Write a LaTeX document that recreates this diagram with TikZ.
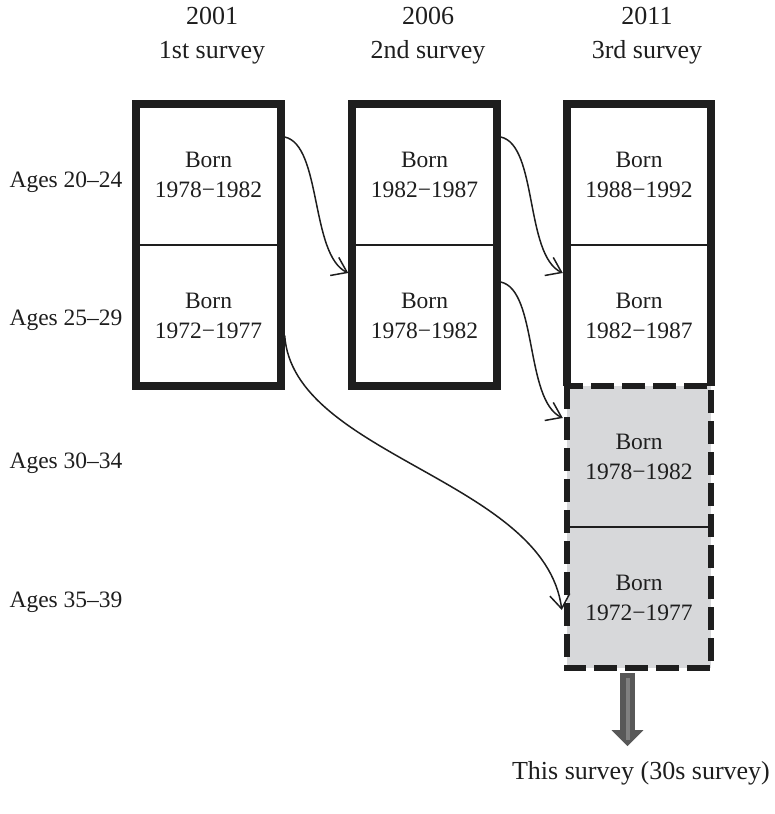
\documentclass[tikz,border=0pt]{standalone}
\usepackage{fontspec}
\setmainfont{Liberation Serif}
\usetikzlibrary{arrows.meta}
\definecolor{cellgray}{RGB}{215,216,218}
\definecolor{arrowgray}{RGB}{88,88,88}
\definecolor{arrowlight}{RGB}{128,128,128}
\definecolor{ink}{RGB}{30,30,30}

\begin{document}
\begin{tikzpicture}[x=1pt, y=-1pt, color=ink,
	cell/.style={minimum width=144pt, minimum height=141pt, inner sep=0pt, align=center, font=\fontsize{23.5}{30}\selectfont},
	newcell/.style={cell, fill=cellgray},
	agelabel/.style={anchor=base, font=\fontsize{23.5}{30}\selectfont},
	headlabel/.style={align=center, font=\fontsize{26}{34}\selectfont},
	frame/.style={line width=8pt},
	dashframe/.style={line width=6pt, dash pattern=on 23pt off 8pt},
	divider/.style={line width=2.5pt},
	cohort/.style={line width=1.5pt, -{Straight Barb[length=14pt, width=20pt]}},
	bigarrow/.style={draw=arrowgray, line width=15pt, -{Triangle[length=16pt, width=31pt]}}]
			\useasboundingbox (0,0) rectangle (774,814);
			% survey headers
			\node[headlabel] (head1) at (212,36) {2001\\1st survey};
			\node[headlabel] (head2) at (428,36) {2006\\2nd survey};
			\node[headlabel] (head3) at (647,36) {2011\\3rd survey};
			% age groups
			\node[agelabel] (age1) at (66,187) {Ages 20–24};
			\node[agelabel] (age2) at (66,325) {Ages 25–29};
			\node[agelabel] (age3) at (66,468) {Ages 30–34};
			\node[agelabel] (age4) at (66,607) {Ages 35–39};
			% cohorts
			\node[cell] (s1r1) at (208.5,174.5) {Born\\1978−1982};
			\node[cell] (s1r2) at (208.5,315.5) {Born\\1972−1977};
			\node[cell] (s2r1) at (424.5,174.5) {Born\\1982−1987};
			\node[cell] (s2r2) at (424.5,315.5) {Born\\1978−1982};
			\node[cell] (s3r1) at (639,174.5) {Born\\1988−1992};
			\node[cell] (s3r2) at (639,315.5) {Born\\1982−1987};
			\node[newcell] (s3r3) at (639,456.5) {Born\\1978−1982};
			\node[newcell] (s3r4) at (639,597.5) {Born\\1972−1977};
			\draw[frame] (s1r1.north west) rectangle (s1r2.south east);
			\draw[divider] (s1r1.south west) -- (s1r1.south east);
			\draw[frame] (s2r1.north west) rectangle (s2r2.south east);
			\draw[divider] (s2r1.south west) -- (s2r1.south east);
			\draw[dashframe] (s3r3.north west) rectangle (s3r4.south east);
			\draw[divider] (s3r3.south west) -- (s3r3.south east);
			\draw[frame] (s3r2.south west) -- (s3r1.north west) -- (s3r1.north east) -- (s3r2.south east);
			\draw[divider] (s3r1.south west) -- (s3r1.south east);
			% moving cohorts
			\draw[cohort] ([xshift=4pt,yshift=37.5pt]s1r1.east) .. controls +(37,8) and +(-38,-18) .. ([xshift=-4pt,yshift=42.5pt]s2r2.west);
			\draw[cohort] ([xshift=4pt,yshift=37.5pt]s2r1.east) .. controls +(37,8) and +(-38,-18) .. ([xshift=-4pt,yshift=42.5pt]s3r2.west);
			\draw[cohort] ([xshift=4pt,yshift=33.5pt]s2r2.east) .. controls +(37,8) and +(-38,-18) .. ([xshift=-4pt,yshift=38.5pt]s3r3.west);
			\draw[cohort] ([xshift=4pt,yshift=-20pt]s1r2.east) .. controls +(8,120) and +(-17,-130) .. ([xshift=-5pt,yshift=-12.5pt]s3r4.west);
			% this survey
			\node[headlabel] (result) at (641,773) {This survey (30s survey)};
			\draw[bigarrow] ([xshift=-11.5pt,yshift=-5pt]s3r4.south) -- ++(0,73);
			\draw[arrowlight, line width=4pt] ([xshift=-11.5pt,yshift=-10pt]s3r4.south) -- ++(0,62);
		\end{tikzpicture}
\end{document}
